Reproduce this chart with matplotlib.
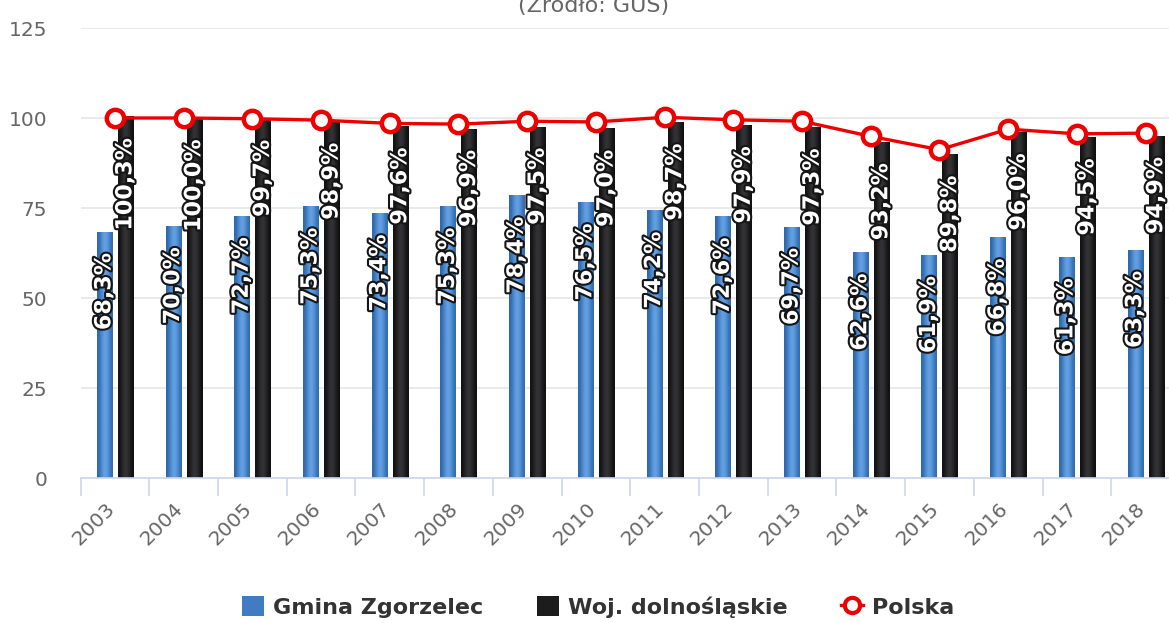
import numpy as np
import matplotlib
matplotlib.use("Agg")
import matplotlib.pyplot as plt
import matplotlib.patheffects as pe
import matplotlib.transforms as mtransforms
from matplotlib.patches import Patch
from matplotlib.lines import Line2D

years = ["2003", "2004", "2005", "2006", "2007", "2008", "2009", "2010",
         "2011", "2012", "2013", "2014", "2015", "2016", "2017", "2018"]
gmina = [68.3, 70.0, 72.7, 75.3, 73.4, 75.3, 78.4, 76.5,
         74.2, 72.6, 69.7, 62.6, 61.9, 66.8, 61.3, 63.3]
woj = [100.3, 100.0, 99.7, 98.9, 97.6, 96.9, 97.5, 97.0,
       98.7, 97.9, 97.3, 93.2, 89.8, 96.0, 94.5, 94.9]
polska = [100.0, 100.0, 99.8, 99.4, 98.5, 98.3, 99.1, 98.9,
          100.2, 99.5, 99.1, 94.9, 91.2, 96.9, 95.6, 95.8]
series_names = ["Gmina Zgorzelec", "Woj. dolnośląskie", "Polska"]
title = "(Źródło: GUS)"
yticks = [0, 25, 50, 75, 100, 125]

W, H = 1169, 623
fig = plt.figure(figsize=(W / 100, H / 100), dpi=100)
left_px, right_px, bottom_px, top_px = 80.5, 1180, 478, 28
ax = fig.add_axes([left_px / W, (H - bottom_px) / H,
                   (right_px - left_px) / W, (bottom_px - top_px) / H])

x = np.arange(len(years))
bw = 0.22
off = 0.153

blue_grad = np.array([[0.18, 0.40, 0.66], [0.30, 0.55, 0.82], [0.42, 0.65, 0.90],
                      [0.33, 0.58, 0.85], [0.20, 0.42, 0.68]])
black_grad = np.array([[0.07, 0.07, 0.07], [0.16, 0.16, 0.17], [0.22, 0.22, 0.23],
                       [0.15, 0.15, 0.16], [0.06, 0.06, 0.06]])

def gradient_bars(bars, grad):
    img = grad[np.newaxis, :, :]
    for b in bars:
        x0, y0 = b.get_x(), b.get_y()
        w, h = b.get_width(), b.get_height()
        ax.imshow(img, extent=[x0, x0 + w, y0, y0 + h], aspect="auto",
                  interpolation="bicubic", zorder=2)
        b.set_facecolor("none")
        b.set_edgecolor("none")

b1 = ax.bar(x - off, gmina, bw, zorder=2)
b2 = ax.bar(x + off, woj, bw, zorder=2)
gradient_bars(b1, blue_grad)
gradient_bars(b2, black_grad)

ax.plot(x, polska, color="#ee0000", lw=2.4, marker="o", markersize=12.5,
        markerfacecolor="white", markeredgecolor="#ee0000", markeredgewidth=3.2,
        zorder=5)

def fmt(v):
    return f"{v:.1f}".replace(".", ",") + "%"

effects = [pe.withStroke(linewidth=3.0, foreground="#151515")]
for xs, vals in ((x - off, gmina), (x + off, woj)):
    for xi, v in zip(xs, vals):
        ax.annotate(fmt(v), (xi, v), xytext=(0, -15), textcoords="offset points",
                    rotation=90, ha="center", va="top", color="white",
                    fontsize=16, fontweight="bold", family="DejaVu Sans",
                    path_effects=effects, zorder=6)

ax.set_xlim(-0.5, len(years) - 0.5)
ax.set_ylim(0, 125)
ax.set_yticks(yticks)
ax.yaxis.grid(True, color="#e6e6e6", lw=1.2, zorder=0)
ax.set_axisbelow(True)
for s in ("top", "right", "left"):
    ax.spines[s].set_visible(False)
ax.spines["bottom"].set_color("#ccd6eb")
ax.spines["bottom"].set_linewidth(1.2)
ax.tick_params(axis="y", length=0, pad=24, labelsize=14.5, labelcolor="#666666")
ax.set_xticks(x)
ax.set_xticklabels(years, rotation=45, ha="right", va="top",
                   rotation_mode="anchor", fontsize=14.5, color="#666666")
ax.tick_params(axis="x", which="major", length=0, pad=15)
shift = mtransforms.ScaledTranslation(-10 / 100, 0, fig.dpi_scale_trans)
for lab in ax.get_xticklabels():
    lab.set_transform(lab.get_transform() + shift)
ax.set_xticks(np.arange(-0.5, len(years), 1.0), minor=True)
ax.tick_params(axis="x", which="minor", length=13, color="#ccd6eb", width=1.2)

fig.text(594 / W, 1.0 - 12 / H, title, ha="center", va="baseline",
         fontsize=16, color="#666666")

handles = [Patch(facecolor="#3f7cc2", edgecolor="none"),
           Patch(facecolor="#1c1c1c", edgecolor="none"),
           Line2D([], [], color="#ee0000", lw=2.4, marker="o", markersize=11,
                  markerfacecolor="white", markeredgecolor="#ee0000",
                  markeredgewidth=3.0)]
leg = fig.legend(handles, series_names, loc="center", ncol=3,
                 bbox_to_anchor=(598 / W, (H - 607) / H), frameon=False,
                 prop={"family": "DejaVu Sans", "weight": "bold", "size": 16},
                 handlelength=1.0, handleheight=1.0, handletextpad=0.4,
                 columnspacing=2.4, labelcolor="#333333")

fig.savefig("out.png", dpi=100)
